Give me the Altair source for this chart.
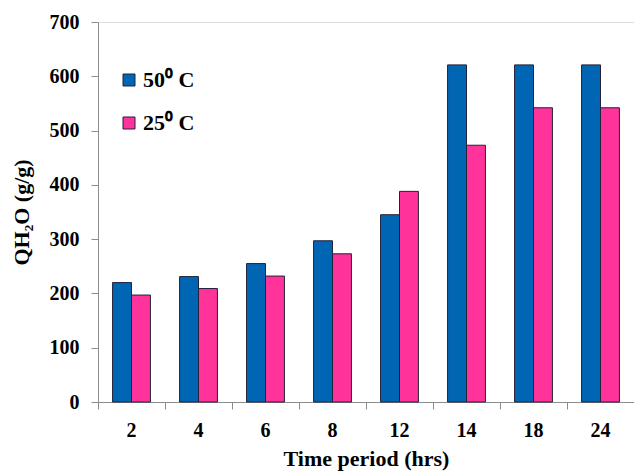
import altair as alt
import pandas as pd

hours = ["2", "4", "6", "8", "12", "14", "18", "24"]
series_names = ["50⁰ C", "25⁰ C"]
q_50 = [220, 231, 255, 297, 345, 621, 621, 621]
q_25 = [197, 209, 232, 273, 388, 473, 542, 542]
colors = ["#0066B3", "#FF3399"]

rows = []
for h, a, b in zip(hours, q_50, q_25):
    rows.append({"hrs": h, "series": series_names[0], "q": a})
    rows.append({"hrs": h, "series": series_names[1], "q": b})
df = pd.DataFrame(rows)

FONT = "Liberation Serif"

chart = (
    alt.Chart(df)
    .mark_bar(stroke="#22223a", strokeWidth=1)
    .encode(
        x=alt.X(
            "hrs:N",
            sort=hours,
            scale=alt.Scale(paddingInner=0, paddingOuter=0),
            axis=alt.Axis(
                title="Time period  (hrs)",
                labelAngle=0,
                bandPosition=0,
                labelFont=FONT,
                labelFontSize=20,
                labelFontWeight="bold",
                labelColor="black",
                labelPadding=11,
                titleFont=FONT,
                titleFontSize=22,
                titleFontWeight="bold",
                titleColor="black",
                titlePadding=8,
                domainColor="#8c8c8c",
                tickColor="#8c8c8c",
                tickSize=7,
            ),
        ),
        xOffset=alt.XOffset(
            "series:N",
            sort=series_names,
            scale=alt.Scale(paddingInner=0, paddingOuter=0.77),
        ),
        y=alt.Y(
            "q:Q",
            scale=alt.Scale(domain=[0, 700]),
            axis=alt.Axis(
                title="QH₂O (g/g)",
                values=[0, 100, 200, 300, 400, 500, 600, 700],
                grid=False,
                labelFont=FONT,
                labelFontSize=20,
                labelFontWeight="bold",
                labelColor="black",
                labelPadding=12,
                titleFont=FONT,
                titleFontSize=22,
                titleFontWeight="bold",
                titleColor="black",
                titlePadding=16,
                domainColor="#8c8c8c",
                tickColor="#8c8c8c",
                tickSize=7,
            ),
        ),
        color=alt.Color(
            "series:N",
            sort=series_names,
            scale=alt.Scale(domain=series_names, range=colors),
            legend=alt.Legend(
                title=None,
                orient="none",
                legendX=20,
                legendY=47,
                symbolType="square",
                symbolSize=144,
                symbolStrokeColor="#22223a",
                symbolStrokeWidth=1,
                symbolOpacity=1,
                labelFont=FONT,
                labelFontSize=22,
                labelFontWeight="bold",
                labelColor="black",
                labelOffset=3,
                rowPadding=21,
                padding=0,
            ),
        ),
    )
    .properties(
        width=536,
        height=380,
        autosize=alt.AutoSizeParams(type="none"),
        padding={"left": 98, "top": 22, "right": 0, "bottom": 74},
    )
    .configure_view(stroke=None)
    .configure(background="white")
)

chart.save("out.html", embed_options={"renderer": "svg", "actions": False})
